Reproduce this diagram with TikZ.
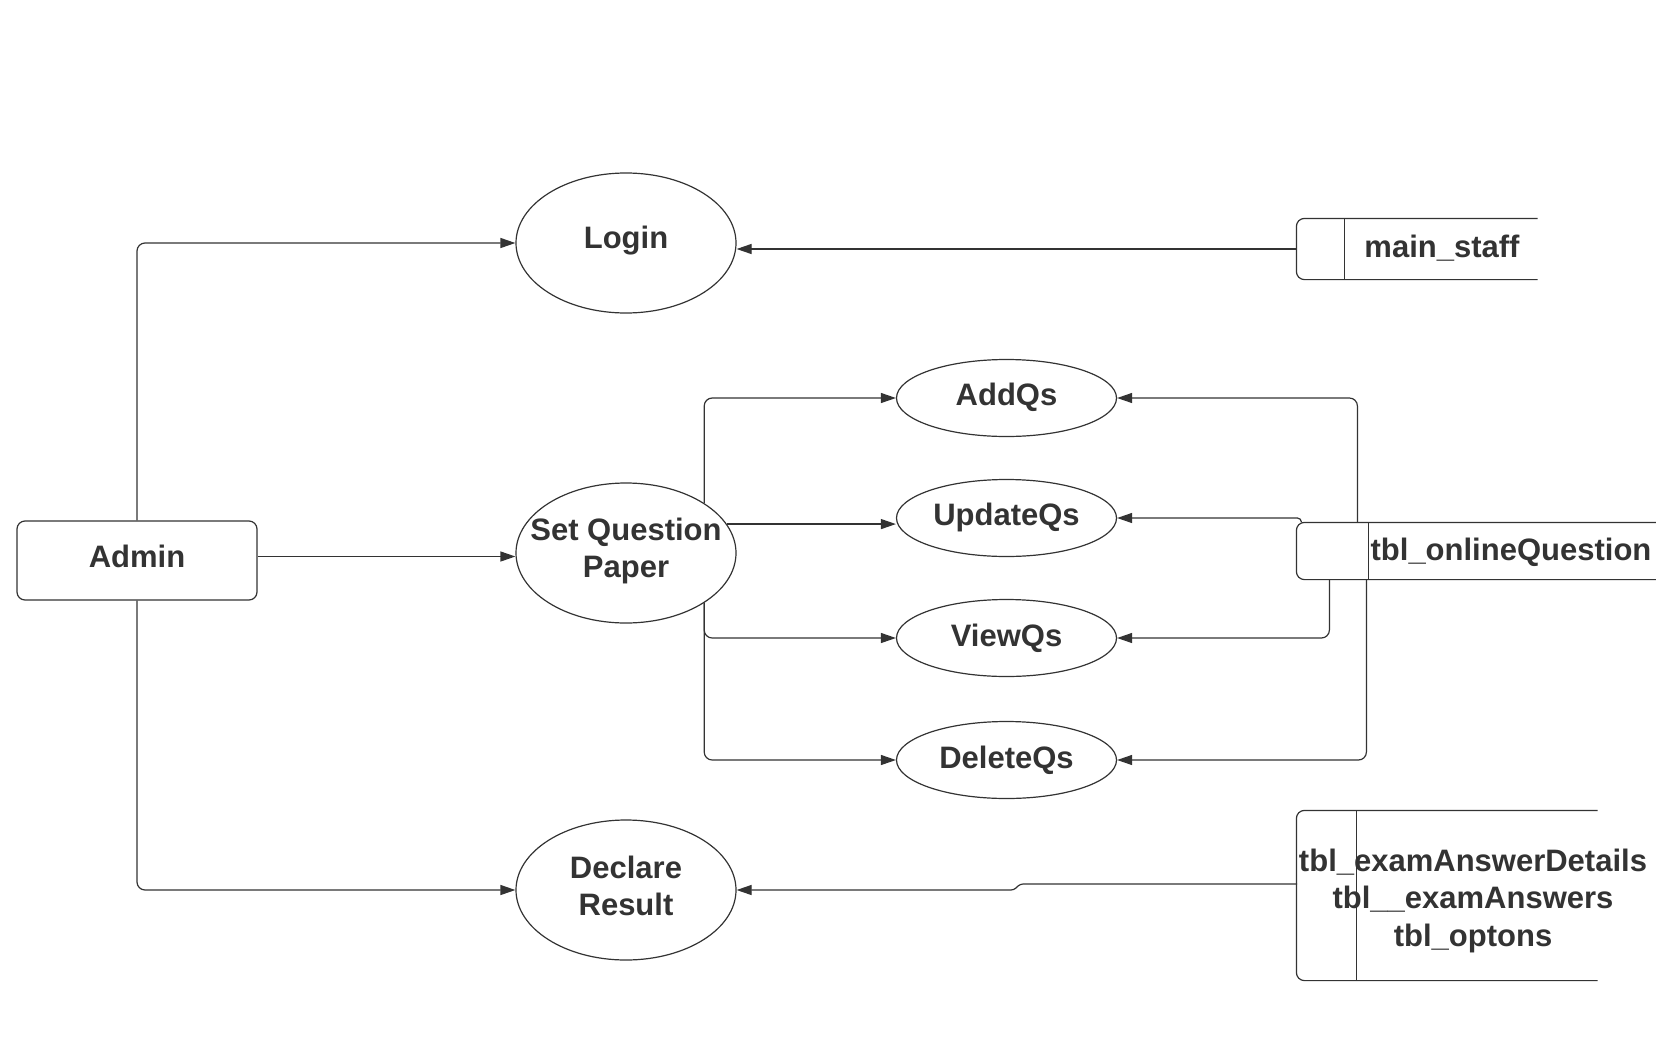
\documentclass[tikz,border=0pt]{standalone}
\usepackage{fontspec}
\setmainfont{Liberation Sans}
\usetikzlibrary{shapes.geometric,arrows.meta,calc}
\definecolor{ink}{HTML}{333333}
\begin{document}
\begin{tikzpicture}[x=1pt,y=-1pt,
  line width=1.2pt,
  proc/.style={ellipse, draw=ink, line width=1.2pt, minimum width=220pt, minimum height=140pt, inner sep=0pt},
  sproc/.style={proc, minimum height=77pt},
  ent/.style={rectangle, rounded corners=8pt, draw=ink, line width=1.2pt, minimum width=240pt, minimum height=79pt, inner sep=0pt},
  holder/.style={rectangle, inner sep=0pt},
  lbl/.style={font=\bfseries\fontsize{31}{37.5}\selectfont, text=ink, align=center, inner sep=0pt},
  storeline/.style={draw=ink, line width=1.2pt},
  arr/.style={draw=ink, line width=1.2pt, -{Triangle[length=15pt,width=10pt]}, rounded corners=8pt}
]
\useasboundingbox (0,0) rectangle (1656,1060);

% processes
\node[proc] (login) at (626,243) {};
\node[lbl] (tlogin) at (626,241) {Login};
\node[proc] (sqp) at (626,553) {};
\node[lbl] (tsqp) at (626,551) {Set Question\\Paper};
\node[proc] (decl) at (626,890) {};
\node[lbl] (tdecl) at (626,886) {Declare\\Result};

\node[sproc] (addq) at (1006.5,398) {};
\node[lbl] (taddq) at (1006.5,397) {AddQs};
\node[sproc] (updq) at (1006.5,518) {};
\node[lbl] (tupdq) at (1006.5,517) {UpdateQs};
\node[sproc] (viewq) at (1006.5,638) {};
\node[lbl] (tviewq) at (1006.5,638) {ViewQs};
\node[sproc] (delq) at (1006.5,760) {};
\node[lbl] (tdelq) at (1006.5,760) {DeleteQs};

% external entity
\node[ent] (admin) at (137,560.5) {};
\node[lbl] (tadmin) at (137,556) {Admin};

% data stores
\node[holder, minimum width=240pt, minimum height=60pt] (ms) at (1417,249) {};
\draw[storeline, rounded corners=8pt] (ms.north east) -- (ms.north west) -- (ms.south west) -- (ms.south east);
\draw[storeline] ([xshift=48pt]ms.north west) -- ([xshift=48pt]ms.south west);
\node[lbl] (tms) at (1442,248) {main\_staff};

\node[holder, minimum width=363pt, minimum height=56pt] (tbo) at (1478.5,551) {};
\draw[storeline, rounded corners=8pt] (tbo.north east) -- (tbo.north west) -- (tbo.south west) -- (tbo.south east);
\draw[storeline] ([xshift=72pt]tbo.north west) -- ([xshift=72pt]tbo.south west);
\node[lbl, anchor=west] (ttbo) at (1370,552) {tbl\_onlineQuestion};

\node[holder, minimum width=300pt, minimum height=169pt] (tbe) at (1447,895.5) {};
\draw[storeline, rounded corners=8pt] (tbe.north east) -- (tbe.north west) -- (tbe.south west) -- (tbe.south east);
\draw[storeline] ([xshift=60pt]tbe.north west) -- ([xshift=60pt]tbe.south west);
\node[lbl] (ttbe) at (1473,900.5) {tbl\_examAnswerDetails\\tbl\_\_examAnswers\\tbl\_optons};
\coordinate (tbeport) at (1297,884);

% connectors from Admin
\draw[arr] (admin.north) |- (login.west);
\draw[arr] ([yshift=4pt]admin.east) -- ([yshift=4pt]admin.east -| sqp.west);
\draw[arr] (admin.south) |- (decl.west);

% from Set Question Paper
\draw[arr] (sqp.north east) |- (addq.west);
\draw[arr] (sqp.16) -- (sqp.16 -| updq.west);
\draw[arr] (sqp.south east) |- (viewq.west);
\draw[arr] (sqp.south east) |- (delq.west);

% from data stores
\draw[arr] (ms.west) -- (ms.west -| login.east);
\draw[arr] ([xshift=61pt]tbo.north west) |- (addq.east);
\draw[arr, rounded corners=4pt] ([xshift=5pt]tbo.north west) |- (updq.east);
\draw[arr] ([xshift=33pt]tbo.south west) |- (viewq.east);
\draw[arr] ([xshift=70pt]tbo.south west) |- (delq.east);
\draw[arr, rounded corners=3pt] (tbeport) -- (1020,884) -- (1014,890) -- (decl.east);
\end{tikzpicture}
\end{document}
